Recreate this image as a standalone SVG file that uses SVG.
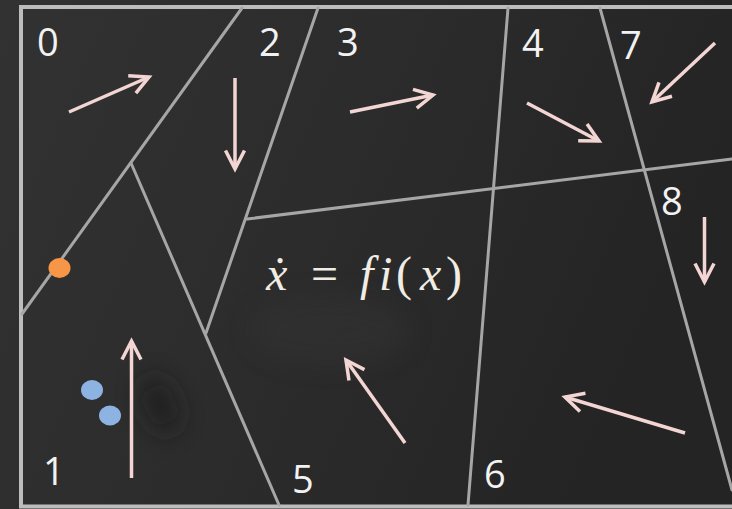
<svg xmlns="http://www.w3.org/2000/svg" width="732" height="509" viewBox="0 0 732 509">
  <defs>
    <linearGradient id="bg" x1="0" y1="0" x2="1" y2="0.3">
      <stop offset="0" stop-color="#323232"/>
      <stop offset="0.5" stop-color="#2c2c2c"/>
      <stop offset="1" stop-color="#242424"/>
    </linearGradient>
    <filter id="blur" x="-100%" y="-100%" width="300%" height="300%">
      <feGaussianBlur stdDeviation="12"/>
    </filter>
    <marker id="head" markerUnits="userSpaceOnUse" markerWidth="40" markerHeight="40" viewBox="-30 -20 40 40" refX="0" refY="0" orient="auto">
      <path d="M-18.5,-9.5 L0,0 L-18.5,9.5" fill="none" stroke="#f3d6d4" stroke-width="3.5" stroke-linejoin="miter"/>
    </marker>
    <style>
      .edge { stroke: #a6a6a6; stroke-width: 3; fill: none; stroke-linecap: round; }
      .frame { stroke: #bdbdbd; stroke-width: 4; fill: none; }
      .num { font-family: "Open Sans", "Noto Sans", sans-serif; font-size: 38px; fill: #f2f2f2; }
      .arrow { stroke: #f3d6d4; stroke-width: 3.5; fill: none; marker-end: url(#head); }
      .eq { font-family: "Liberation Serif", serif; font-size: 48px; fill: #f0ede4; }
      .it { font-style: italic; }
    </style>
  </defs>

  <rect width="732" height="509" fill="url(#bg)"/>
  <ellipse cx="160" cy="405" rx="16" ry="30" transform="rotate(-25 160 405)" fill="#1a1a1a" filter="url(#blur)" opacity="0.7"/>
  <ellipse cx="330" cy="330" rx="80" ry="35" fill="#383838" filter="url(#blur)" opacity="0.35"/>

  <g id="frame">
    <polyline class="frame" points="732,7 21,7 21,506.5 732,506.5"/>
  </g>

  <g id="boundaries">
    <line class="edge" x1="242" y1="8" x2="22" y2="314"/>
    <line class="edge" x1="131" y1="163" x2="279" y2="505"/>
    <line class="edge" x1="318" y1="8" x2="206" y2="333"/>
    <line class="edge" x1="247" y1="219" x2="732" y2="159"/>
    <line class="edge" x1="508" y1="8" x2="468" y2="505"/>
    <line class="edge" x1="600" y1="8" x2="732" y2="490"/>
  </g>

  <g id="region0"><text class="num" x="37" y="56">0</text></g>
  <g id="region1"><text class="num" x="43" y="485">1</text></g>
  <g id="region2"><text class="num" x="259" y="56">2</text></g>
  <g id="region3"><text class="num" x="337" y="56">3</text></g>
  <g id="region4"><text class="num" x="522" y="57">4</text></g>
  <g id="region5"><text class="num" x="292" y="493">5</text></g>
  <g id="region6"><text class="num" x="484" y="488">6</text></g>
  <g id="region7"><text class="num" x="620" y="59">7</text></g>
  <g id="region8"><text class="num" x="661" y="215">8</text></g>

  <g id="equation">
    <text class="eq" y="290"><tspan class="it" x="266">ẋ</tspan><tspan x="311">=</tspan><tspan class="it" x="360">f</tspan><tspan class="it" x="379">i</tspan><tspan x="396">(</tspan><tspan class="it" x="420">x</tspan><tspan x="446">)</tspan></text>
  </g>

  <g id="points">
    <ellipse cx="59.5" cy="268" rx="11" ry="10" fill="#f79646"/>
    <ellipse cx="92" cy="390" rx="11" ry="10" fill="#8db3e2"/>
    <ellipse cx="110" cy="415.5" rx="11" ry="10" fill="#8db3e2"/>
  </g>

  <g id="connectors">
    <line class="arrow" x1="69" y1="112" x2="149" y2="77"/>
    <line class="arrow" x1="235" y1="78" x2="235" y2="169"/>
    <line class="arrow" x1="350" y1="112" x2="433" y2="95"/>
    <line class="arrow" x1="527" y1="103" x2="599" y2="141"/>
    <line class="arrow" x1="715" y1="43" x2="652" y2="102"/>
    <line class="arrow" x1="704.5" y1="217" x2="704.5" y2="282"/>
    <line class="arrow" x1="131.5" y1="478" x2="131.5" y2="341"/>
    <line class="arrow" x1="405" y1="443" x2="346" y2="360"/>
    <line class="arrow" x1="685" y1="433" x2="565" y2="397"/>
  </g>
</svg>
